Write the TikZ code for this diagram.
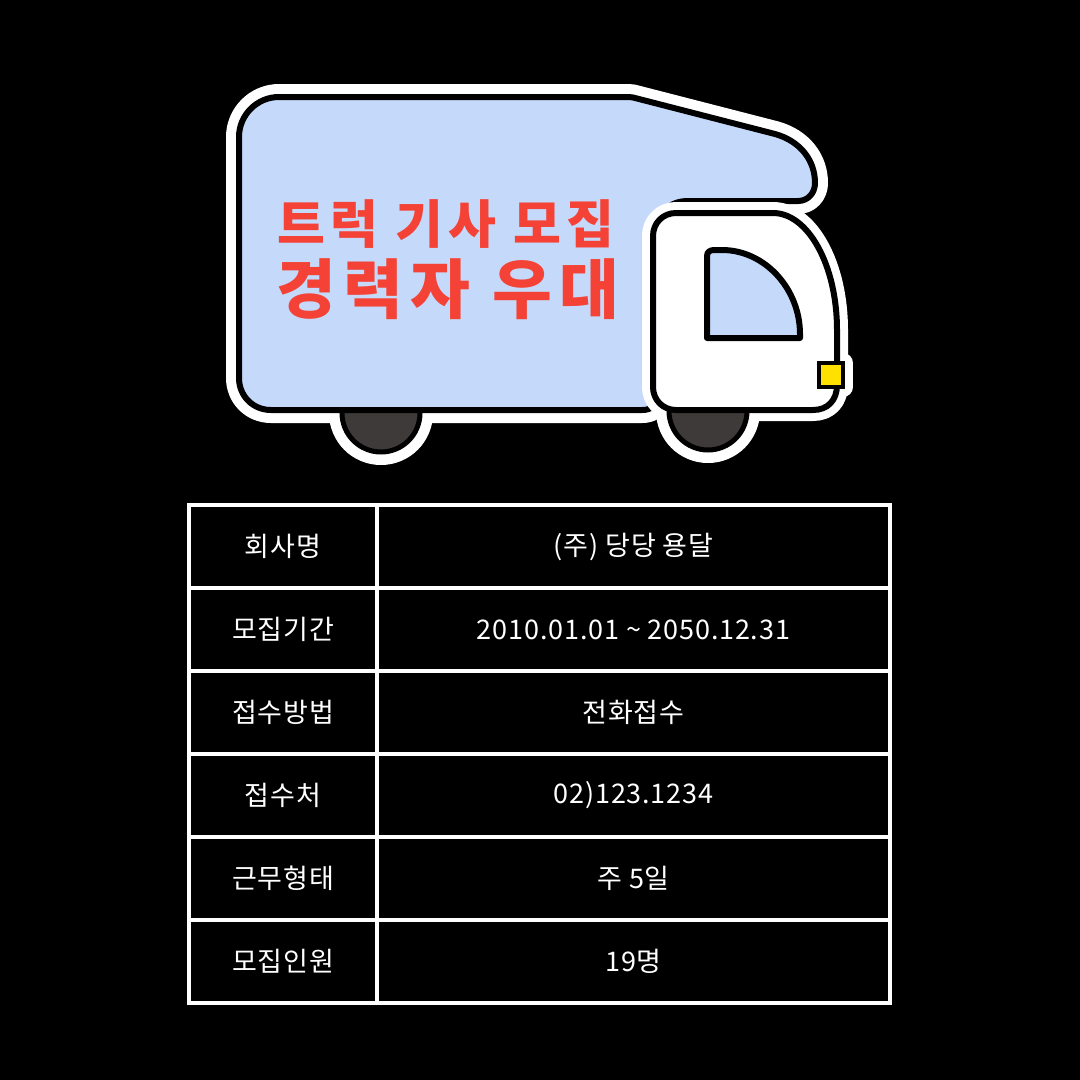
\documentclass[tikz,border=0pt]{standalone}
\usepackage{fontspec}
\newfontfamily\kr{Noto Sans CJK KR}
\newfontfamily\krtone{Noto Sans CJK KR}[LetterSpace=10]
\newfontfamily\krttwo{Noto Sans CJK KR}[LetterSpace=11]
\newfontfamily\krcell{Noto Sans CJK KR}[LetterSpace=3]
\definecolor{bodyblue}{RGB}{197,218,251}
\definecolor{tred}{RGB}{244,67,54}
\definecolor{wheelc}{RGB}{62,58,57}
\definecolor{lampc}{RGB}{255,225,0}
\tikzset{
  halo/.style={draw=white, line width=26pt, line join=round},
  halos/.style={draw=white, line width=22pt, line join=round},
  outl/.style={draw=black, line width=6pt, line join=round},
  title/.style={inner sep=0pt, text=tred},
  cell/.style={inner sep=0pt, text=white, font=\krcell\fontsize{27}{32}\selectfont},
  grid/.style={draw=white, line width=3.5pt}
}
\begin{document}
\begin{tikzpicture}[x=1pt,y=-1pt]
\useasboundingbox (0,0) rectangle (1080,1080);
\fill[black] (0,0) rectangle (1080,1080);
% paths
\def\bodypath{(657,300) -- (657,395) .. controls (657,405) and (652,410) .. (642,410) -- (271,410) .. controls (253,410) and (239,396) .. (239,378) -- (239,137) .. controls (239,115) and (257,97) .. (279,97) -- (628,97) .. controls (631,97) and (634,97.5) .. (637,98.5) -- (775,134) .. controls (800,141) and (815,160) .. (815,183) .. controls (815,193) and (808,201) .. (798,201) -- (688,201) .. controls (670,201) and (658,212) .. (657,232) -- cycle}
\def\cabpath{(676,213) -- (773,213) .. controls (808,213) and (837,265) .. (837,330) -- (837,385) .. controls (837,400) and (828,410) .. (813,410) -- (676,410) .. controls (663,410) and (653,400) .. (653,387) -- (653,236) .. controls (653,223) and (663,213) .. (676,213) -- cycle}
% halos of body and rear wheel
\path[halo] \bodypath;
\path[halo] (381,413) circle[radius=39];
% rear wheel
\path[fill=wheelc, draw=black, line width=5pt] (381,413) circle[radius=39];
% body
\path[fill=bodyblue] \bodypath;
\path[outl] \bodypath;
% title
\node[title, font=\krtone\bfseries\fontsize{52}{60}\selectfont] (t1) at (446,224) {트럭 기사 모집};
\node[title, font=\krttwo\bfseries\fontsize{65}{75}\selectfont] (t2) at (448,289) {경력자 우대};
% cab halos
\path[halos] \cabpath;
\path[halo] (708,411) circle[radius=39];
\path[draw=white, line width=20pt, line join=round] (819,363) rectangle (843,387);
% front wheel
\path[fill=wheelc, draw=black, line width=5pt] (708,411) circle[radius=39];
% cab
\path[fill=white] \cabpath;
\path[outl] \cabpath;
% window
\path[fill=bodyblue, draw=black, line width=6pt, line join=round] (707,338) -- (707,256) .. controls (707,252) and (710,250) .. (714,250) -- (722,250) .. controls (765,250) and (800,289) .. (800,334) -- (800,338) -- cycle;
% headlight
\path[fill=lampc, draw=black, line width=4pt] (819,363) rectangle (843,387);
% table
\draw[grid] (189,505) rectangle (890,1003);
\draw[grid] (377,505) -- (377,1003);
\foreach \yy in {588,671,754,837,920} { \draw[grid] (189,\yy) -- (890,\yy); }
\node[cell] (l1) at (283,546.5) {회사명};
\node[cell] (v1) at (633.5,546.5) {(주) 당당 용달};
\node[cell] (l2) at (283,629.5) {모집기간};
\node[cell] (v2) at (633.5,629.5) {2010.01.01 \char"007E{} 2050.12.31};
\node[cell] (l3) at (283,712.5) {접수방법};
\node[cell] (v3) at (633.5,712.5) {전화접수};
\node[cell] (l4) at (283,795.5) {접수처};
\node[cell] (v4) at (633.5,795.5) {02)123.1234};
\node[cell] (l5) at (283,878.5) {근무형태};
\node[cell] (v5) at (633.5,878.5) {주 5일};
\node[cell] (l6) at (283,961.5) {모집인원};
\node[cell] (v6) at (633.5,961.5) {19명};
\end{tikzpicture}
\end{document}
